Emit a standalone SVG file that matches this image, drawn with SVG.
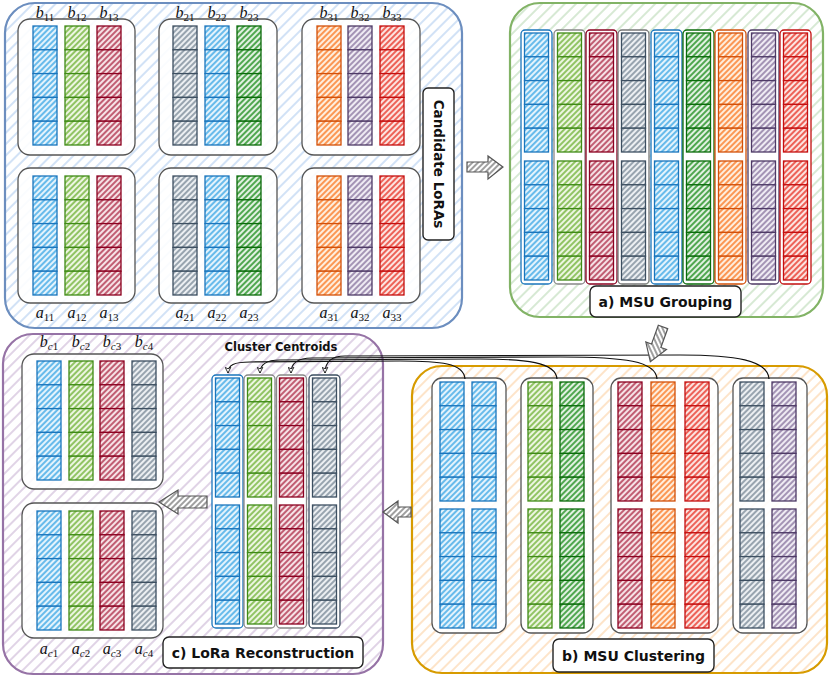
<svg xmlns="http://www.w3.org/2000/svg" xmlns:xlink="http://www.w3.org/1999/xlink" width="830" height="679" viewBox="0 0 830 679">
<style>
.panel{stroke-width:2.2}
.grp{fill:#ffffff;fill-opacity:0.88;stroke:#555;stroke-width:1.3}
.grp2{fill:none;stroke:#999;stroke-width:0.8}
.lbl{fill:#fff;stroke:#222;stroke-width:1.4}
.t{font-family:"DejaVu Sans",sans-serif;font-weight:bold;fill:#111;text-anchor:middle}
.m{font-family:"Liberation Serif",serif;font-size:16px;fill:#111;text-anchor:middle}
.m .i{font-style:italic}
.m .s{font-size:11px}
use{stroke-width:1.3}
.cb{fill:url(#pb);stroke:#1a75bc}
.cg{fill:url(#pg);stroke:#3f8a16}
.cdg{fill:url(#pdg);stroke:#0a6b0a}
.cdr{fill:url(#pdr);stroke:#8b0020}
.cgr{fill:url(#pgr);stroke:#3d4f61}
.co{fill:url(#po);stroke:#d2500a}
.cp{fill:url(#pp);stroke:#4e3a66}
.cr{fill:url(#pr);stroke:#c40f0f}
.o{fill:#fff;stroke-width:1.3}
.arrow{fill:url(#pa);stroke:#555;stroke-width:1.2}
.con{fill:none;stroke:#111;stroke-width:1.2}
</style>
<defs>
<pattern id="pb" patternUnits="userSpaceOnUse" width="4" height="4" patternTransform="rotate(45)"><rect width="4" height="4" fill="#e4f3fc"/><line x1="1" y1="0" x2="1" y2="4" stroke="#3ea9e6" stroke-width="1.5"/></pattern>
<pattern id="pg" patternUnits="userSpaceOnUse" width="4" height="4" patternTransform="rotate(45)"><rect width="4" height="4" fill="#edf6e2"/><line x1="1" y1="0" x2="1" y2="4" stroke="#72b33a" stroke-width="1.5"/></pattern>
<pattern id="pdg" patternUnits="userSpaceOnUse" width="4" height="4" patternTransform="rotate(45)"><rect width="4" height="4" fill="#e2f1e2"/><line x1="1" y1="0" x2="1" y2="4" stroke="#1f8f1f" stroke-width="1.5"/></pattern>
<pattern id="pdr" patternUnits="userSpaceOnUse" width="4" height="4" patternTransform="rotate(45)"><rect width="4" height="4" fill="#f6e2e6"/><line x1="1" y1="0" x2="1" y2="4" stroke="#b0324d" stroke-width="1.5"/></pattern>
<pattern id="pgr" patternUnits="userSpaceOnUse" width="4" height="4" patternTransform="rotate(45)"><rect width="4" height="4" fill="#eceff2"/><line x1="1" y1="0" x2="1" y2="4" stroke="#7c8b99" stroke-width="1.5"/></pattern>
<pattern id="po" patternUnits="userSpaceOnUse" width="4" height="4" patternTransform="rotate(45)"><rect width="4" height="4" fill="#feeede"/><line x1="1" y1="0" x2="1" y2="4" stroke="#fa7a26" stroke-width="1.5"/></pattern>
<pattern id="pp" patternUnits="userSpaceOnUse" width="4" height="4" patternTransform="rotate(45)"><rect width="4" height="4" fill="#efebf3"/><line x1="1" y1="0" x2="1" y2="4" stroke="#8b77a0" stroke-width="1.5"/></pattern>
<pattern id="pr" patternUnits="userSpaceOnUse" width="4" height="4" patternTransform="rotate(45)"><rect width="4" height="4" fill="#fce4e1"/><line x1="1" y1="0" x2="1" y2="4" stroke="#e8362a" stroke-width="1.5"/></pattern>
<pattern id="pa" patternUnits="userSpaceOnUse" width="4" height="4" patternTransform="rotate(45)"><rect width="4" height="4" fill="#fff"/><line x1="1" y1="0" x2="1" y2="4" stroke="#777" stroke-width="1.4"/></pattern>
<pattern id="hblue" patternUnits="userSpaceOnUse" width="8" height="8" patternTransform="rotate(45)"><rect width="8" height="8" fill="#fff"/><line x1="2" y1="0" x2="2" y2="8" stroke="#cddff5" stroke-width="1.8"/></pattern>
<pattern id="hgreen" patternUnits="userSpaceOnUse" width="8" height="8" patternTransform="rotate(45)"><rect width="8" height="8" fill="#fff"/><line x1="2" y1="0" x2="2" y2="8" stroke="#d3e7d0" stroke-width="1.8"/></pattern>
<pattern id="horange" patternUnits="userSpaceOnUse" width="8" height="8" patternTransform="rotate(45)"><rect width="8" height="8" fill="#fff"/><line x1="2" y1="0" x2="2" y2="8" stroke="#fde1c4" stroke-width="1.8"/></pattern>
<pattern id="hpurple" patternUnits="userSpaceOnUse" width="8" height="8" patternTransform="rotate(45)"><rect width="8" height="8" fill="#fff"/><line x1="2" y1="0" x2="2" y2="8" stroke="#ddcfe4" stroke-width="1.8"/></pattern>
<g id="c5">
<rect x="0" y="0" width="24" height="23.8"/>
<rect x="0" y="23.8" width="24" height="23.8"/>
<rect x="0" y="47.6" width="24" height="23.8"/>
<rect x="0" y="71.4" width="24" height="23.8"/>
<rect x="0" y="95.2" width="24" height="23.8"/>
</g>
<marker id="ah" viewBox="0 0 10 10" refX="9" refY="5" markerWidth="7" markerHeight="7" orient="auto" markerUnits="userSpaceOnUse">
<path d="M1,1 L9,5 L1,9 L3,5 Z" fill="#fff" stroke="#111" stroke-width="1.2"/>
</marker>
</defs>
<rect width="830" height="679" fill="#fff"/>

<!-- Panel 1: Candidate LoRAs -->
<g id="panel-candidate">
<rect class="panel" x="5" y="3" width="457" height="325" rx="30" fill="url(#hblue)" stroke="#6c8ebf"/>
</g>
<g id="lora1-b">
<rect class="grp" x="18" y="19" width="117" height="136" rx="12"/>
<use href="#c5" x="33" y="26" class="cb"/><use href="#c5" x="65" y="26" class="cg"/><use href="#c5" x="97" y="26" class="cdr"/>
</g>
<g id="lora2-b">
<rect class="grp" x="159" y="19" width="118" height="136" rx="12"/>
<use href="#c5" x="173" y="26" class="cgr"/><use href="#c5" x="205" y="26" class="cb"/><use href="#c5" x="237" y="26" class="cdg"/>
</g>
<g id="lora3-b">
<rect class="grp" x="302" y="19" width="118" height="136" rx="12"/>
<use href="#c5" x="317" y="26" class="co"/><use href="#c5" x="348" y="26" class="cp"/><use href="#c5" x="380" y="26" class="cr"/>
</g>
<g id="lora1-a">
<rect class="grp" x="18" y="168" width="117" height="135" rx="12"/>
<use href="#c5" x="33" y="176" class="cb"/><use href="#c5" x="65" y="176" class="cg"/><use href="#c5" x="97" y="176" class="cdr"/>
</g>
<g id="lora2-a">
<rect class="grp" x="159" y="168" width="118" height="135" rx="12"/>
<use href="#c5" x="173" y="176" class="cgr"/><use href="#c5" x="205" y="176" class="cb"/><use href="#c5" x="237" y="176" class="cdg"/>
</g>
<g id="lora3-a">
<rect class="grp" x="302" y="168" width="118" height="135" rx="12"/>
<use href="#c5" x="317" y="176" class="co"/><use href="#c5" x="348" y="176" class="cp"/><use href="#c5" x="380" y="176" class="cr"/>
</g>
<g id="labels-b">
<text class="m" x="45" y="18"><tspan class="i">b</tspan><tspan class="s" dy="3">11</tspan></text>
<text class="m" x="77" y="18"><tspan class="i">b</tspan><tspan class="s" dy="3">12</tspan></text>
<text class="m" x="109" y="18"><tspan class="i">b</tspan><tspan class="s" dy="3">13</tspan></text>
<text class="m" x="185" y="18"><tspan class="i">b</tspan><tspan class="s" dy="3">21</tspan></text>
<text class="m" x="217" y="18"><tspan class="i">b</tspan><tspan class="s" dy="3">22</tspan></text>
<text class="m" x="249" y="18"><tspan class="i">b</tspan><tspan class="s" dy="3">23</tspan></text>
<text class="m" x="329" y="18"><tspan class="i">b</tspan><tspan class="s" dy="3">31</tspan></text>
<text class="m" x="360" y="18"><tspan class="i">b</tspan><tspan class="s" dy="3">32</tspan></text>
<text class="m" x="392" y="18"><tspan class="i">b</tspan><tspan class="s" dy="3">33</tspan></text>
</g>
<g id="labels-a">
<text class="m" x="45" y="318"><tspan class="i">a</tspan><tspan class="s" dy="3">11</tspan></text>
<text class="m" x="77" y="318"><tspan class="i">a</tspan><tspan class="s" dy="3">12</tspan></text>
<text class="m" x="109" y="318"><tspan class="i">a</tspan><tspan class="s" dy="3">13</tspan></text>
<text class="m" x="185" y="318"><tspan class="i">a</tspan><tspan class="s" dy="3">21</tspan></text>
<text class="m" x="217" y="318"><tspan class="i">a</tspan><tspan class="s" dy="3">22</tspan></text>
<text class="m" x="249" y="318"><tspan class="i">a</tspan><tspan class="s" dy="3">23</tspan></text>
<text class="m" x="329" y="318"><tspan class="i">a</tspan><tspan class="s" dy="3">31</tspan></text>
<text class="m" x="360" y="318"><tspan class="i">a</tspan><tspan class="s" dy="3">32</tspan></text>
<text class="m" x="392" y="318"><tspan class="i">a</tspan><tspan class="s" dy="3">33</tspan></text>
</g>
<g id="label-candidate">
<rect class="lbl" x="423" y="88" width="31" height="152" rx="5"/>
<text class="t" font-size="13.5" transform="translate(439,164) rotate(90)" y="5">Candidate LoRAs</text>
</g>

<!-- Panel 2: MSU Grouping -->
<g id="panel-grouping">
<rect class="panel" x="510" y="3" width="313" height="314" rx="30" fill="url(#hgreen)" stroke="#82b366"/>
</g>
<g id="msu-columns">
<rect class="o" x="521" y="30" width="31" height="254" rx="4" stroke="#1a75bc"/><use href="#c5" x="524.5" y="33" class="cb"/><use href="#c5" x="524.5" y="161" class="cb"/>
<rect class="o" x="554" y="30" width="31" height="254" rx="4" stroke="#888"/><use href="#c5" x="557.5" y="33" class="cg"/><use href="#c5" x="557.5" y="161" class="cg"/>
<rect class="o" x="586" y="30" width="31" height="254" rx="4" stroke="#8b0020"/><use href="#c5" x="589.5" y="33" class="cdr"/><use href="#c5" x="589.5" y="161" class="cdr"/>
<rect class="o" x="618" y="30" width="31" height="254" rx="4" stroke="#777"/><use href="#c5" x="621.5" y="33" class="cgr"/><use href="#c5" x="621.5" y="161" class="cgr"/>
<rect class="o" x="651" y="30" width="31" height="254" rx="4" stroke="#1a75bc"/><use href="#c5" x="654.5" y="33" class="cb"/><use href="#c5" x="654.5" y="161" class="cb"/>
<rect class="o" x="683" y="30" width="31" height="254" rx="4" stroke="#0a6b0a"/><use href="#c5" x="686.5" y="33" class="cdg"/><use href="#c5" x="686.5" y="161" class="cdg"/>
<rect class="o" x="715" y="30" width="31" height="254" rx="4" stroke="#d2500a"/><use href="#c5" x="718.5" y="33" class="co"/><use href="#c5" x="718.5" y="161" class="co"/>
<rect class="o" x="748" y="30" width="31" height="254" rx="4" stroke="#4e3a66"/><use href="#c5" x="751.5" y="33" class="cp"/><use href="#c5" x="751.5" y="161" class="cp"/>
<rect class="o" x="780" y="30" width="31" height="254" rx="4" stroke="#c40f0f"/><use href="#c5" x="783.5" y="33" class="cr"/><use href="#c5" x="783.5" y="161" class="cr"/>
</g>
<g id="label-grouping">
<rect class="lbl" x="590" y="286" width="151" height="31" rx="6"/>
<text class="t" font-size="14" x="665.5" y="307">a) MSU Grouping</text>
</g>

<!-- Panel 3: MSU Clustering -->
<g id="panel-clustering">
<rect class="panel" x="412" y="366" width="415" height="307" rx="30" fill="url(#horange)" stroke="#d79b00"/>
</g>
<g id="cluster1">
<rect class="grp" x="432" y="378" width="74" height="255" rx="10"/>
<use href="#c5" x="440" y="382" class="cb"/><use href="#c5" x="472" y="382" class="cb"/>
<use href="#c5" x="440" y="509" class="cb"/><use href="#c5" x="472" y="509" class="cb"/>
</g>
<g id="cluster2">
<rect class="grp" x="521" y="378" width="72" height="255" rx="10"/>
<use href="#c5" x="528" y="382" class="cg"/><use href="#c5" x="560" y="382" class="cdg"/>
<use href="#c5" x="528" y="509" class="cg"/><use href="#c5" x="560" y="509" class="cdg"/>
</g>
<g id="cluster3">
<rect class="grp" x="611" y="378" width="107" height="255" rx="10"/>
<use href="#c5" x="618" y="382" class="cdr"/><use href="#c5" x="651" y="382" class="co"/><use href="#c5" x="685" y="382" class="cr"/>
<use href="#c5" x="618" y="509" class="cdr"/><use href="#c5" x="651" y="509" class="co"/><use href="#c5" x="685" y="509" class="cr"/>
</g>
<g id="cluster4">
<rect class="grp" x="733" y="378" width="74" height="255" rx="10"/>
<use href="#c5" x="740" y="382" class="cgr"/><use href="#c5" x="772" y="382" class="cp"/>
<use href="#c5" x="740" y="509" class="cgr"/><use href="#c5" x="772" y="509" class="cp"/>
</g>
<g id="label-clustering">
<rect class="lbl" x="553" y="639" width="161" height="33" rx="6"/>
<text class="t" font-size="14" x="633.5" y="661">b) MSU Clustering</text>
</g>

<!-- Panel 4: LoRA Reconstruction -->
<g id="panel-reconstruction">
<rect class="panel" x="3" y="334" width="380" height="340" rx="30" fill="url(#hpurple)" stroke="#9673a6"/>
</g>
<g id="recon-b">
<rect class="grp" x="22" y="354" width="141" height="135" rx="12"/>
<use href="#c5" x="37" y="361" class="cb"/><use href="#c5" x="69" y="361" class="cg"/><use href="#c5" x="100" y="361" class="cdr"/><use href="#c5" x="132" y="361" class="cgr"/>
<text class="m" x="49" y="347"><tspan class="i">b</tspan><tspan class="s i" dy="3">c</tspan><tspan class="s">1</tspan></text>
<text class="m" x="81" y="347"><tspan class="i">b</tspan><tspan class="s i" dy="3">c</tspan><tspan class="s">2</tspan></text>
<text class="m" x="112" y="347"><tspan class="i">b</tspan><tspan class="s i" dy="3">c</tspan><tspan class="s">3</tspan></text>
<text class="m" x="144" y="347"><tspan class="i">b</tspan><tspan class="s i" dy="3">c</tspan><tspan class="s">4</tspan></text>
</g>
<g id="recon-a">
<rect class="grp" x="22" y="503" width="141" height="135" rx="12"/>
<use href="#c5" x="37" y="511" class="cb"/><use href="#c5" x="69" y="511" class="cg"/><use href="#c5" x="100" y="511" class="cdr"/><use href="#c5" x="132" y="511" class="cgr"/>
<text class="m" x="49" y="654"><tspan class="i">a</tspan><tspan class="s i" dy="3">c</tspan><tspan class="s">1</tspan></text>
<text class="m" x="81" y="654"><tspan class="i">a</tspan><tspan class="s i" dy="3">c</tspan><tspan class="s">2</tspan></text>
<text class="m" x="112" y="654"><tspan class="i">a</tspan><tspan class="s i" dy="3">c</tspan><tspan class="s">3</tspan></text>
<text class="m" x="144" y="654"><tspan class="i">a</tspan><tspan class="s i" dy="3">c</tspan><tspan class="s">4</tspan></text>
</g>
<g id="centroids">
<text class="t" font-size="11.5" x="281" y="351">Cluster Centroids</text>
<rect class="o" x="212" y="375" width="31" height="253" rx="4" stroke="#1a75bc"/><use href="#c5" x="215.5" y="378" class="cb"/><use href="#c5" x="215.5" y="505" class="cb"/>
<rect class="o" x="244" y="375" width="31" height="253" rx="4" stroke="#888"/><use href="#c5" x="247.5" y="378" class="cg"/><use href="#c5" x="247.5" y="505" class="cg"/>
<rect class="o" x="276.5" y="375" width="30" height="253" rx="4" stroke="#888"/><use href="#c5" x="279.5" y="378" class="cdr"/><use href="#c5" x="279.5" y="505" class="cdr"/>
<rect class="o" x="309" y="375" width="31" height="253" rx="4" stroke="#3d4f61"/><use href="#c5" x="312.5" y="378" class="cgr"/><use href="#c5" x="312.5" y="505" class="cgr"/>
</g>
<g id="label-reconstruction">
<rect class="lbl" x="163" y="637" width="200" height="31" rx="6"/>
<text class="t" font-size="14" x="263" y="658">c) LoRa Reconstruction</text>
</g>

<!-- Connectors -->
<g id="connectors">
<path class="con" d="M465,379 C464,363 440,361 400,361 L250,362 C234,362 228,365 228,373" marker-end="url(#ah)"/>
<path class="con" d="M557,379 C556,362 525,359 480,359 L280,360 C266,360 260,364 260,373" marker-end="url(#ah)"/>
<path class="con" d="M657,379 C656,361 625,357 560,357 L312,358 C297,358 291,363 291,373" marker-end="url(#ah)"/>
<path class="con" d="M769,379 C768,360 735,355 680,355 L345,356 C331,356 325,362 325,373" marker-end="url(#ah)"/>
<path class="arrow" d="M467,162 L488,162 L488,156 L503,167 L488,179 L488,172 L467,172 Z"/>
<path class="arrow" transform="translate(663,327) rotate(110)" d="M0,-5 L20,-5 L20,-11 L37,0 L20,11 L20,5 L0,5 Z"/>
<path class="arrow" d="M383,512 L398,501 L398,507 L411,507 L411,517 L398,517 L398,523 Z"/>
<path class="arrow" d="M159,502 L178,490 L178,496 L207,496 L207,508 L178,508 L178,514 Z"/>
</g>
</svg>
